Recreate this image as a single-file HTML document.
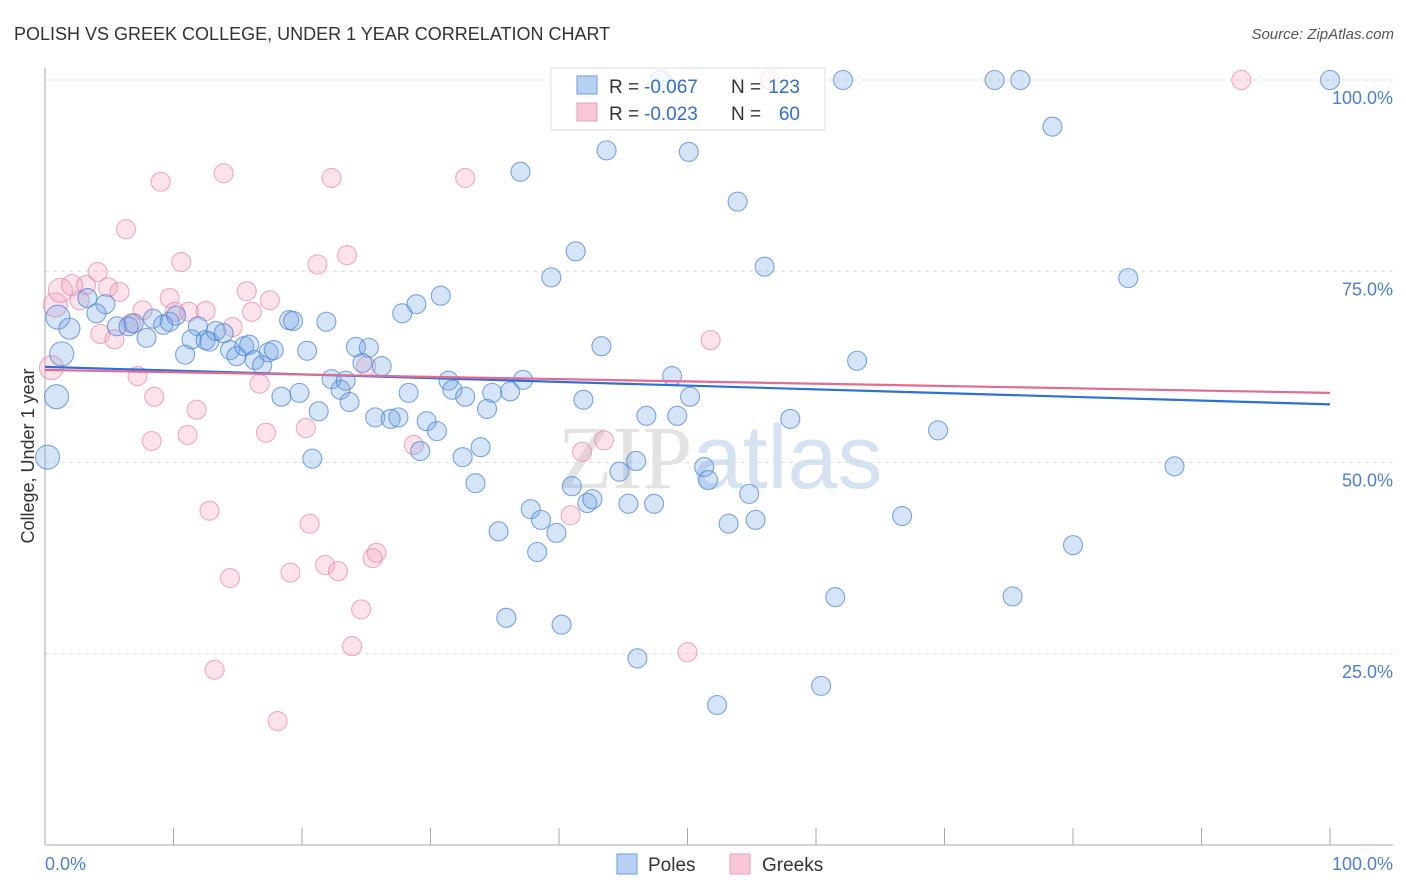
<!DOCTYPE html>
<html><head><meta charset="utf-8"><style>
body{margin:0;background:#fff;font-family:"Liberation Sans",sans-serif;}
svg{display:block}
</style></head><body>
<svg id="chart" width="1406" height="892">
<text x="14" y="40" font-size="18" fill="#333">POLISH VS GREEK COLLEGE, UNDER 1 YEAR CORRELATION CHART</text>
<text x="1394" y="39" font-size="15" fill="#555" font-style="italic" text-anchor="end">Source: ZipAtlas.com</text>
<text x="720" y="488" font-size="90" fill="#dfe6ef" text-anchor="middle" font-family="Liberation Serif,serif"><tspan fill="#e3e3e3">ZIP</tspan><tspan font-family="Liberation Sans,sans-serif" fill="#d5e2f2">atlas</tspan></text>
<g id="grid"></g>
<g id="pts"></g>
<g id="lines"></g>
<text transform="translate(34,456) rotate(-90)" font-size="18" fill="#333" text-anchor="middle">College, Under 1 year</text>
<g>
<rect x="551" y="68" width="274" height="62" fill="#fff" fill-opacity="0.75" stroke="#ddd"/>
<rect x="577" y="76" width="20" height="18" fill="#b8d0f2" stroke="#6d9de0"/>
<rect x="577" y="103" width="20" height="18" fill="#f7c7d6" stroke="#eaa0b9"/>
<text x="609" y="93" font-size="19" fill="#333">R =</text>
<text x="644" y="93" font-size="19" fill="#2f6fd6">-0.067</text>
<text x="731" y="93" font-size="19" fill="#333">N =</text>
<text x="800" y="93" font-size="19" fill="#2f6fd6" text-anchor="end">123</text>
<text x="609" y="120" font-size="19" fill="#333">R =</text>
<text x="644" y="120" font-size="19" fill="#2f6fd6">-0.023</text>
<text x="731" y="120" font-size="19" fill="#333">N =</text>
<text x="800" y="120" font-size="19" fill="#2f6fd6" text-anchor="end">60</text>
</g>
<g>
<rect x="617" y="854" width="20" height="20" fill="#b8d0f2" stroke="#6d9de0"/>
<text x="648" y="871" font-size="19" fill="#333">Poles</text>
<rect x="730" y="854" width="20" height="20" fill="#f7c7d6" stroke="#eaa0b9"/>
<text x="762" y="871" font-size="19" fill="#333">Greeks</text>
</g>
</svg>
<script>
const xTicks=[0,10,20,30,40,50,60,70,80,90,100];
const yTicks=[25,50,75,100];
const yTickLabels=["25.0%","50.0%","75.0%","100.0%"];
const polesX=[47.9,62.1,73.9,75.9,100,78.4,43.7,50.1,37.0,53.9,41.3,56.0,39.4,84.3,30.8,28.9,27.8,19.0,19.3,21.9,1.0,3.3,4.7,4.0,1.9,5.6,6.5,6.9,7.9,8.4,9.2,9.7,10.2,11.9,11.4,12.5,12.8,13.3,13.9,10.9,14.4,14.9,15.5,15.9,16.3,16.9,17.4,17.8,20.4,24.2,25.2,24.7,26.2,43.3,63.2,1.3,0.9,0.2,18.4,19.8,22.3,23.0,23.4,23.7,21.3,25.7,26.9,27.5,28.3,31.4,31.7,32.7,34.8,36.2,37.2,48.8,50.2,41.9,29.7,30.5,29.2,32.5,33.9,34.4,20.8,33.5,35.3,37.8,38.6,39.8,38.3,41.0,42.2,42.6,45.4,44.7,46.0,46.8,47.4,49.2,51.3,51.6,54.8,55.3,53.2,58.0,69.5,66.7,87.9,80.0,61.5,75.3,35.9,40.2,46.1,60.4,52.3];
const polesY=[100,100,100,100,100,93.9,90.8,90.6,88.0,84.1,77.6,75.6,74.2,74.1,71.8,70.7,69.5,68.6,68.5,68.4,69.0,71.5,70.7,69.5,67.5,67.8,67.8,68.2,66.3,68.8,68.0,68.4,69.2,67.8,66.1,66.0,65.8,67.2,66.9,64.1,64.7,63.9,65.2,65.4,63.4,62.7,64.4,64.7,64.6,65.1,65.0,63.0,62.6,65.2,63.3,64.2,58.6,50.7,58.6,59.1,60.9,59.5,60.7,57.9,56.7,55.9,55.7,55.9,59.1,60.7,59.5,58.6,59.1,59.3,60.8,61.3,58.6,58.2,55.4,54.1,51.5,50.7,52.0,57.0,50.5,47.3,41.0,43.9,42.5,40.8,38.3,46.9,44.7,45.2,44.6,48.8,50.2,56.1,44.6,56.1,49.4,47.7,45.9,42.5,42.0,55.7,54.2,43.0,49.5,39.2,32.4,32.5,29.7,28.8,24.4,20.8,18.3];
const greeksX=[0.8,0.5,1.2,2.1,3.2,2.7,4.1,4.9,5.8,6.3,9.0,13.9,10.6,7.6,9.7,10.1,11.2,12.5,14.6,15.7,16.1,17.5,4.3,5.4,6.7,21.2,22.3,23.5,32.7,7.2,8.5,16.7,11.8,8.3,11.1,17.2,20.3,25.0,28.7,41.8,43.5,51.8,12.8,20.6,14.4,19.1,21.8,22.8,25.8,25.5,24.6,23.9,13.2,18.1,40.9,50.0,93.1,56.4];
const greeksY=[70.6,62.4,72.5,73.2,73.2,71.2,74.9,72.9,72.3,80.5,86.7,87.8,76.2,69.9,71.5,69.7,69.7,69.8,67.7,72.4,69.7,71.2,66.8,66.1,68.2,75.9,87.2,77.1,87.2,61.3,58.6,60.3,56.9,52.8,53.6,53.9,54.5,62.6,52.3,51.4,52.9,66.0,43.7,42.0,34.9,35.6,36.6,35.8,38.2,37.5,30.8,26.0,22.9,16.2,43.1,25.2,100,100];
const polesTrend=[62.5,57.6];
const greeksTrend=[62.1,59.1];
const X0=45,X1=1330,Y0=845,Y100=80;
const sx=v=>X0+(X1-X0)*v/100;
const sy=v=>Y0-(Y0-Y100)*v/100;
const NS="http://www.w3.org/2000/svg";
function mk(t,a,p){const e=document.createElementNS(NS,t);for(const k in a)e.setAttribute(k,a[k]);p.appendChild(e);return e;}
const grid=document.getElementById('grid');
yTicks.forEach((t,i)=>{
 const l=mk('line',{x1:45,x2:1393,y1:sy(t),y2:sy(t),stroke:'#ddd','stroke-dasharray':'4,4'},grid);
 
 
 const tx=mk('text',{x:1393,y:sy(t)+24,'font-size':18,fill:'#4a7fd4','text-anchor':'end'},grid);
 tx.textContent=yTickLabels[i];
 
 
});
const ax=mk('line',{x1:45,x2:45,y1:68,y2:845,stroke:'#aaa'},grid);


const axb=mk('line',{x1:45,x2:1393,y1:845,y2:845,stroke:'#aaa'},grid);


xTicks.forEach(t=>{
 const l=mk('line',{x1:sx(t),x2:sx(t),y1:828,y2:845,stroke:'#aaa'},grid);
 
 
});
const xl0=mk('text',{x:45,y:870,'font-size':18,fill:'#4a7fd4'},grid);xl0.textContent='0.0%';


const xl1=mk('text',{x:1393,y:870,'font-size':18,fill:'#4a7fd4','text-anchor':'end'},grid);xl1.textContent='100.0%';


const pts=document.getElementById('pts');
function big(x){return x<1.5?12:(x<2.5?10.5:9.5);}
greeksX.forEach((x,i)=>{
 const c=mk('circle',{cx:sx(x),cy:sy(greeksY[i]),r:big(x),fill:'rgba(244,160,190,0.3)',stroke:'rgba(228,130,165,0.65)','stroke-width':1.1},pts);
 
 
});
polesX.forEach((x,i)=>{
 const c=mk('circle',{cx:sx(x),cy:sy(polesY[i]),r:big(x),fill:'rgba(120,165,230,0.3)',stroke:'rgba(70,130,215,0.7)','stroke-width':1.1},pts);
 
 
});
const lines=document.getElementById('lines');
const lb=mk('line',{x1:sx(0),x2:sx(100),y1:sy(polesTrend[0]),y2:sy(polesTrend[1]),stroke:'#2e6fd8','stroke-width':2.2},lines);


const lp=mk('line',{x1:sx(0),x2:sx(100),y1:sy(greeksTrend[0]),y2:sy(greeksTrend[1]),stroke:'#e46a92','stroke-width':2.2},lines);


</script>
</body></html>
